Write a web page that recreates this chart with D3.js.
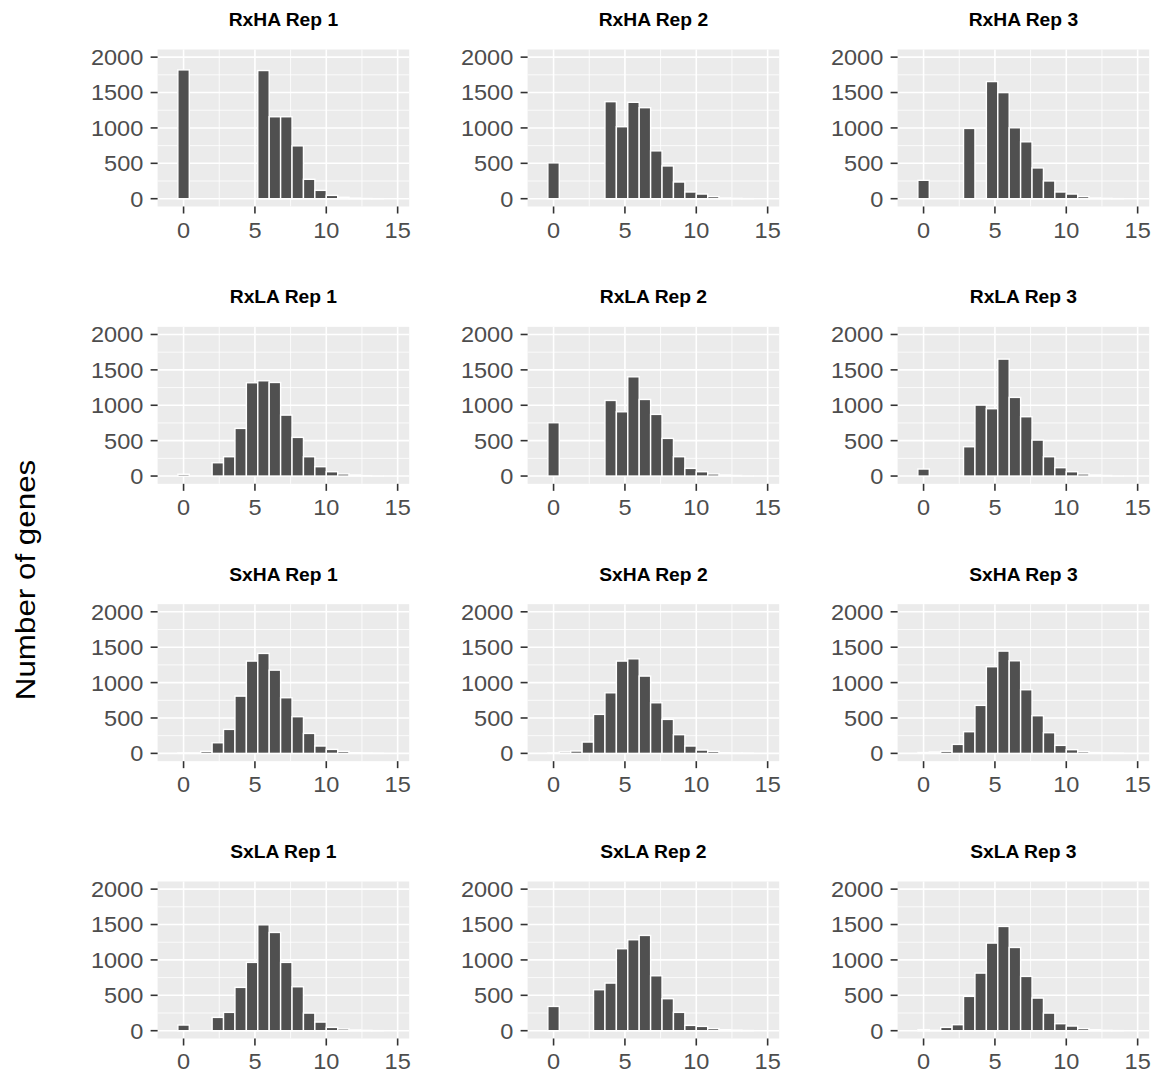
<!DOCTYPE html>
<html>
<head>
<meta charset="utf-8">
<script src="https://cdn.jsdelivr.net/npm/d3@7"></script>
<style>
  html, body { margin: 0; padding: 0; background: #ffffff; }
  svg { display: block; }
  text { font-family: "Liberation Sans", Arial, sans-serif; }
</style>
</head>
<body>
<svg id="chart" width="1158" height="1075"></svg>
<script>
// ---------------- DATA ----------------
const binCenters = [0, 0.8, 1.6, 2.4, 3.2, 4.0, 4.8, 5.6, 6.4, 7.2, 8.0, 8.8, 9.6, 10.4, 11.2, 12.0, 12.8, 13.6, 14.4];
const binWidth = 0.8;

const panelTitles = [
  "RxHA Rep 1", "RxHA Rep 2", "RxHA Rep 3",
  "RxLA Rep 1", "RxLA Rep 2", "RxLA Rep 3",
  "SxHA Rep 1", "SxHA Rep 2", "SxHA Rep 3",
  "SxLA Rep 1", "SxLA Rep 2", "SxLA Rep 3"
];

const rxha1 = [1820, 0, 0, 0, 0, 0, 0, 1811, 1158, 1158, 747, 274, 118, 47, 20, 8, 3, 1, 0];
const rxha2 = [506, 0, 0, 0, 0, 1371, 1017, 1362, 1286, 676, 463, 236, 95, 66, 30, 12, 5, 2, 0];
const rxha3 = [260, 0, 0, 0, 993, 0, 1655, 1499, 1002, 804, 435, 251, 95, 66, 30, 12, 5, 2, 0];
const rxla1 = [25, 0, 0, 188, 273, 673, 1318, 1346, 1322, 861, 546, 273, 132, 61, 30, 15, 6, 2, 0];
const rxla2 = [753, 0, 0, 0, 0, 1068, 908, 1402, 1082, 871, 532, 273, 108, 61, 30, 14, 8, 3, 0];
const rxla3 = [99, 0, 0, 0, 414, 1002, 951, 1652, 1111, 838, 508, 273, 118, 61, 30, 15, 8, 2, 0];
const sxha1 = [5, 8, 28, 150, 339, 809, 1304, 1412, 1176, 786, 518, 282, 104, 56, 28, 10, 4, 1, 0];
const sxha2 = [5, 22, 33, 160, 551, 856, 1304, 1336, 1092, 715, 480, 264, 104, 47, 28, 10, 6, 3, 0];
const sxha3 = [12, 20, 30, 127, 306, 678, 1224, 1445, 1308, 899, 532, 292, 113, 52, 25, 12, 5, 2, 0];
const sxla1 = [80, 0, 0, 188, 259, 612, 965, 1496, 1388, 965, 621, 249, 122, 47, 25, 12, 5, 1, 0];
const sxla2 = [343, 0, 0, 0, 579, 673, 1158, 1285, 1346, 776, 452, 259, 75, 61, 30, 14, 8, 3, 0];
const sxla3 = [15, 5, 47, 85, 485, 814, 1238, 1473, 1176, 767, 461, 249, 99, 66, 30, 14, 5, 2, 0];

const panelCounts = [rxha1, rxha2, rxha3, rxla1, rxla2, rxla3, sxha1, sxha2, sxha3, sxla1, sxla2, sxla3];

const xTicks = [0, 5, 10, 15];
const xMinorTicks = [2.5, 7.5, 12.5];
const yTicks = [0, 500, 1000, 1500, 2000];
const yMinorTicks = [250, 750, 1250, 1750];
const yAxisTitle = "Number of genes";

// ---------------- LAYOUT ----------------
const svg = d3.select("#chart");
svg.append("rect").attr("width", 1158).attr("height", 1075).attr("fill", "#ffffff");

const nCols = 3;
const colLeft0 = 157.6, colStep = 370;
const rowTop0 = 49.5, rowStep = 277.33;
const pW = 251.6, pH = 157;
const SX = 1.07; // horizontal text stretch

const xDomain = [-1.82, 15.81];
const yDomain = [-110, 2108];

panelCounts.forEach((counts, i) => {
  const col = i % nCols, row = Math.floor(i / nCols);
  const left = colLeft0 + col * colStep;
  const top = rowTop0 + row * rowStep;

  const x = d3.scaleLinear().domain(xDomain).range([0, pW]);
  const y = d3.scaleLinear().domain(yDomain).range([pH, 0]);

  const g = svg.append("g").attr("transform", `translate(${left},${top})`);

  g.append("rect").attr("width", pW).attr("height", pH).attr("fill", "#EBEBEB");

  g.selectAll(".vminor").data(xMinorTicks).enter().append("line")
    .attr("x1", d => x(d)).attr("x2", d => x(d)).attr("y1", 0).attr("y2", pH)
    .attr("stroke", "#ffffff").attr("stroke-width", 0.8);
  g.selectAll(".hminor").data(yMinorTicks).enter().append("line")
    .attr("y1", d => y(d)).attr("y2", d => y(d)).attr("x1", 0).attr("x2", pW)
    .attr("stroke", "#ffffff").attr("stroke-width", 0.8);
  g.selectAll(".vmajor").data(xTicks).enter().append("line")
    .attr("x1", d => x(d)).attr("x2", d => x(d)).attr("y1", 0).attr("y2", pH)
    .attr("stroke", "#ffffff").attr("stroke-width", 1.6);
  g.selectAll(".hmajor").data(yTicks).enter().append("line")
    .attr("y1", d => y(d)).attr("y2", d => y(d)).attr("x1", 0).attr("x2", pW)
    .attr("stroke", "#ffffff").attr("stroke-width", 1.6);

  const bins = binCenters.map((c, k) => ({ c: c, v: counts[k] }));
  g.selectAll(".bar").data(bins).enter().append("rect")
    .attr("x", d => x(d.c - binWidth / 2))
    .attr("width", d => x(d.c + binWidth / 2) - x(d.c - binWidth / 2))
    .attr("y", d => y(d.v))
    .attr("height", d => y(0) - y(d.v))
    .attr("fill", "#505050")
    .attr("stroke", "#ffffff")
    .attr("stroke-width", 1.4);

  const yAxis = g.append("g");
  yTicks.forEach(t => {
    yAxis.append("line").attr("x1", -7).attr("x2", 0).attr("y1", y(t)).attr("y2", y(t))
      .attr("stroke", "#333333").attr("stroke-width", 1.6);
    yAxis.append("text")
      .attr("transform", `translate(${-14.3},${y(t)}) scale(${SX},1)`)
      .attr("dy", "0.36em")
      .attr("text-anchor", "end")
      .attr("font-size", 22)
      .attr("fill", "#4D4D4D")
      .text(t);
  });

  const xAxis = g.append("g").attr("transform", `translate(0,${pH})`);
  xTicks.forEach(t => {
    xAxis.append("line").attr("x1", x(t)).attr("x2", x(t)).attr("y1", 0).attr("y2", 7)
      .attr("stroke", "#333333").attr("stroke-width", 1.6);
    xAxis.append("text")
      .attr("transform", `translate(${x(t)},${31}) scale(${SX},1)`)
      .attr("text-anchor", "middle")
      .attr("font-size", 22)
      .attr("fill", "#4D4D4D")
      .text(t);
  });

  g.append("text")
    .attr("transform", `translate(${pW / 2},${-23.5}) scale(1.07,1)`)
    .attr("text-anchor", "middle")
    .attr("font-size", 18)
    .attr("font-weight", "bold")
    .attr("fill", "#000000")
    .text(panelTitles[i]);
});

svg.append("text")
  .attr("transform", `translate(35,580) rotate(-90) scale(1.12,1)`)
  .attr("text-anchor", "middle")
  .attr("font-size", 28)
  .attr("fill", "#000000")
  .text(yAxisTitle);
</script>
</body>
</html>
